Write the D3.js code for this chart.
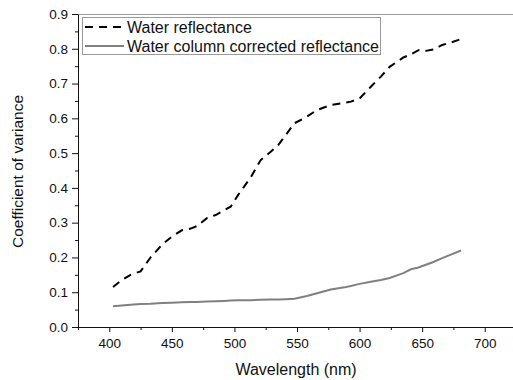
<!DOCTYPE html>
<html>
<head>
<meta charset="utf-8">
<script src="https://cdn.jsdelivr.net/npm/d3@7"></script>
<style>
  body { margin: 0; background: #fff; }
  svg { display: block; font-family: "Liberation Sans", Arial, sans-serif; }
</style>
</head>
<body>
<svg id="chart" width="513" height="380"></svg>
<script>
// values
var wavelengths = [403, 410, 417, 425, 433, 442, 450, 458, 465, 470, 478, 485, 492, 497, 503, 513, 521, 529, 535, 541,
                   548, 558, 566, 577, 588, 593, 600, 609, 617, 624, 635, 641, 647, 653, 659, 666, 673, 681];
var waterRefl = [0.115, 0.135, 0.150, 0.160, 0.200, 0.236, 0.260, 0.278, 0.283, 0.290, 0.313, 0.322, 0.336, 0.346, 0.380, 0.430, 0.480, 0.504, 0.523, 0.552,
                 0.586, 0.605, 0.624, 0.638, 0.645, 0.648, 0.657, 0.691, 0.720, 0.748, 0.775, 0.784, 0.796, 0.794, 0.798, 0.811, 0.818, 0.828];
var correctedRefl = [0.060, 0.062, 0.064, 0.066, 0.067, 0.069, 0.070, 0.071, 0.072, 0.072, 0.073, 0.074, 0.075, 0.076, 0.077, 0.077, 0.078, 0.079, 0.079, 0.080,
                     0.081, 0.089, 0.097, 0.108, 0.114, 0.118, 0.124, 0.130, 0.135, 0.141, 0.155, 0.166, 0.171, 0.179, 0.187, 0.198, 0.208, 0.220];
var xTicks = [400, 450, 500, 550, 600, 650, 700];
var yTicks = [0, 0.1, 0.2, 0.3, 0.4, 0.5, 0.6, 0.7, 0.8, 0.9];
var seriesNames = ["Water reflectance", "Water column corrected reflectance"];

var svg = d3.select('#chart');
var plotL = 78, plotT = 14, plotB = 327, plotR = 516;

var x = d3.scaleLinear().domain([375, 725]).range([plotL, plotR]);
var y = d3.scaleLinear().domain([0, 0.9]).range([plotB, plotT]);

// frame top line
svg.append('line')
  .attr('x1', plotL).attr('x2', plotR)
  .attr('y1', plotT + 0.5).attr('y2', plotT + 0.5)
  .style('stroke', '#999').style('stroke-width', 1);

// minor ticks
var xMinor = d3.range(375, 726, 25).filter(function(d) { return xTicks.indexOf(d) < 0; });
svg.append('g')
  .attr('transform', 'translate(0,' + plotB + ')')
  .call(d3.axisBottom(x).tickValues(xMinor).tickSize(3).tickFormat(''))
  .call(function(g) { g.select('.domain').remove(); });
var yMinor = d3.range(0.05, 0.9, 0.1);
svg.append('g')
  .attr('transform', 'translate(' + plotL + ',0)')
  .call(d3.axisLeft(y).tickValues(yMinor).tickSize(3).tickFormat(''))
  .call(function(g) { g.select('.domain').remove(); });

// major axes
svg.append('g')
  .attr('transform', 'translate(0,' + plotB + ')')
  .call(d3.axisBottom(x).tickValues(xTicks).tickSize(5).tickSizeOuter(0).tickPadding(6).tickFormat(d3.format('d')));
svg.append('g')
  .attr('transform', 'translate(' + plotL + ',0)')
  .call(d3.axisLeft(y).tickValues(yTicks).tickSize(6).tickSizeOuter(0).tickPadding(4).tickFormat(d3.format('.1f')));

svg.selectAll('.tick text')
  .style('font-family', '"Liberation Sans", Arial, sans-serif')
  .style('font-size', '13.5px')
  .style('fill', '#111');
svg.selectAll('.domain, .tick line').style('stroke', '#111');

// axis titles
svg.append('text')
  .attr('x', 296)
  .attr('y', 375)
  .attr('text-anchor', 'middle')
  .style('font-size', '16px')
  .style('fill', '#111')
  .text('Wavelength (nm)');
svg.append('text')
  .attr('transform', 'translate(23,' + ((plotT + plotB) / 2 + 1) + ') rotate(-90)')
  .attr('text-anchor', 'middle')
  .style('font-size', '15.5px')
  .style('fill', '#111')
  .text('Coefficient of variance');

// lines
var lineGen = d3.line()
  .x(function(d, i) { return x(wavelengths[i]); })
  .y(function(d) { return y(d); });

svg.append('path')
  .datum(waterRefl)
  .attr('d', lineGen)
  .style('fill', 'none')
  .style('stroke', '#000')
  .style('stroke-width', 2)
  .style('stroke-dasharray', '8,6');

svg.append('path')
  .datum(correctedRefl)
  .attr('d', lineGen)
  .style('fill', 'none')
  .style('stroke', '#808080')
  .style('stroke-width', 2);

// legend
var legend = svg.append('g');
legend.append('rect')
  .attr('x', 82.5).attr('y', 17.5)
  .attr('width', 298).attr('height', 37)
  .style('fill', '#fff')
  .style('stroke', '#999');

var legendStyles = [
  { stroke: '#000', dash: '8,6' },
  { stroke: '#808080', dash: null }
];
seriesNames.forEach(function(name, i) {
  var ly = 27 + i * 19;
  legend.append('line')
    .attr('x1', 85).attr('x2', 124)
    .attr('y1', ly).attr('y2', ly)
    .style('stroke', legendStyles[i].stroke)
    .style('stroke-width', 2)
    .style('stroke-dasharray', legendStyles[i].dash);
  legend.append('text')
    .attr('x', 127)
    .attr('y', ly + 5.5)
    .style('font-size', '16px')
    .style('fill', '#111')
    .text(name);
});
</script>
</body>
</html>
